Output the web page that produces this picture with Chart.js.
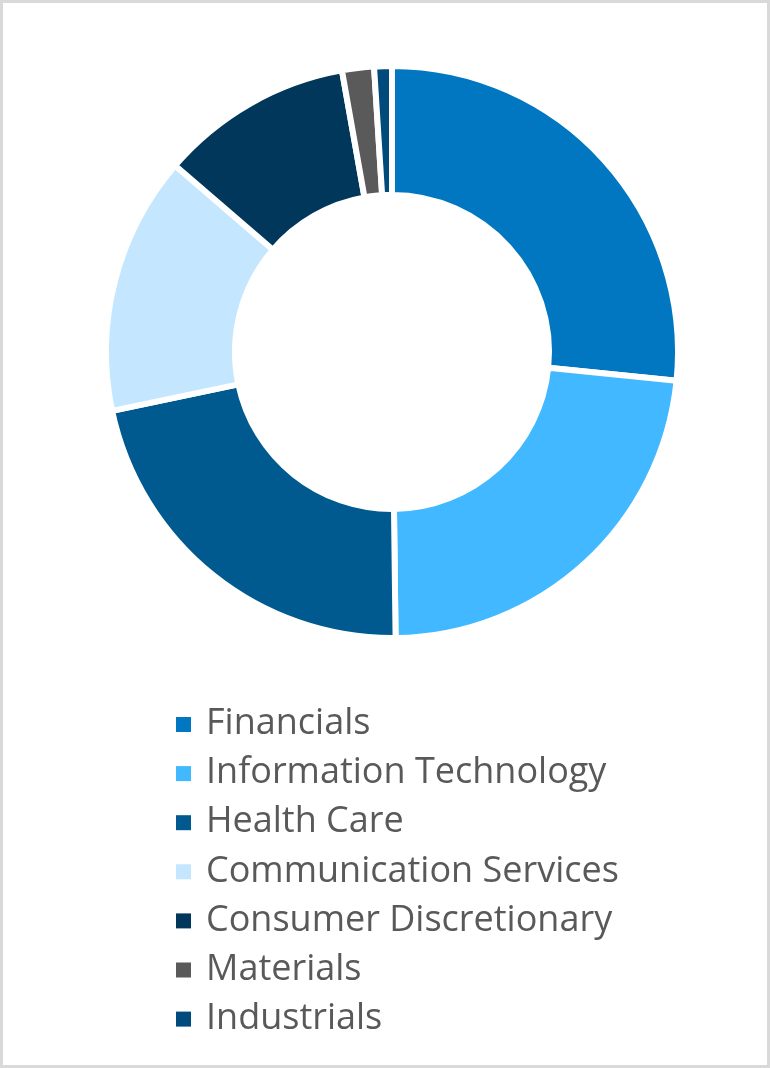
<!DOCTYPE html>
<html>
<head>
<meta charset="utf-8">
<script src="https://cdn.jsdelivr.net/npm/chart.js@4"></script>
<style>
  html, body { margin: 0; padding: 0; background: #ffffff; }
  #wrap { width: 770px; height: 1068px; position: relative; }
</style>
</head>
<body>
<div id="wrap"><canvas id="sectorChart" width="770" height="1068"></canvas></div>
<script>
// Sector names
const sectors = [
  "Financials",
  "Information Technology",
  "Health Care",
  "Communication Services",
  "Consumer Discretionary",
  "Materials",
  "Industrials",
];
// Weight of each sector (%)
const weights = [26.6, 23.2, 21.9, 14.6, 10.9, 1.8, 1.0];
// Slice colours
const sectorColors = [
  "#0077c0",
  "#41b8ff",
  "#005a8f",
  "#c4e7ff",
  "#00375b",
  "#5a5a5a",
  "#004b7c",
];

// Plugin: frame around the picture and a one-column legend under the ring
const frameAndLegend = {
  id: "frameAndLegend",
  afterDraw(chart) {
    const ctx = chart.ctx;
    ctx.save();
    // light grey frame
    ctx.strokeStyle = "#d9d9d9";
    ctx.lineWidth = 3;
    ctx.strokeRect(1.5, 1.5, chart.width - 3, chart.height - 3);

    // legend rows
    const labels = chart.data.labels;
    const colors = chart.data.datasets[0].backgroundColor;
    ctx.font = "36px 'Open Sans'";
    ctx.textBaseline = "middle";
    ctx.textAlign = "left";
    labels.forEach((label, i) => {
      const y = 724 + i * 49.1;
      ctx.fillStyle = colors[i];
      ctx.fillRect(176, y - 7, 15, 15);
      ctx.fillStyle = "#595959";
      ctx.fillText(label, 206, y);
    });
    ctx.restore();
  },
};

const chart = new Chart(document.getElementById("sectorChart"), {
  type: "doughnut",
  data: {
    labels: sectors,
    datasets: [
      {
        data: weights,
        backgroundColor: sectorColors,
        borderColor: "#ffffff",
        borderWidth: 6,
        borderAlign: "center",
      },
    ],
  },
  options: {
    responsive: false,
    animation: false,
    cutout: "54.9%",
    layout: {
      padding: { left: 103, right: 89, top: 63, bottom: 427 },
    },
    plugins: {
      legend: { display: false },
      tooltip: { enabled: false },
    },
  },
  plugins: [frameAndLegend],
});
</script>
</body>
</html>
